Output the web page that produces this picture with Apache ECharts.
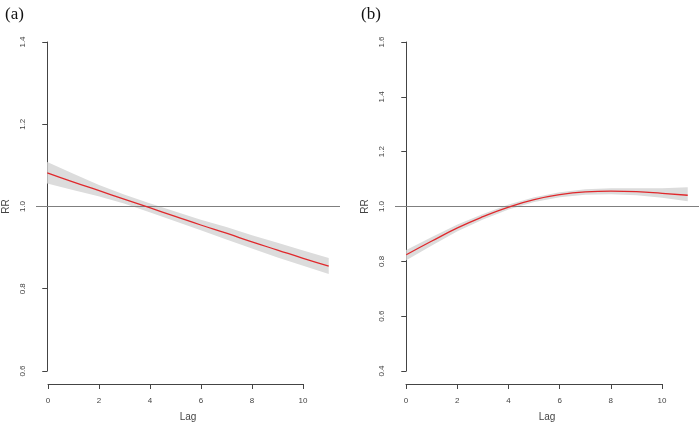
<!DOCTYPE html>
<html>
<head>
<meta charset="utf-8">
<script src="https://cdn.jsdelivr.net/npm/echarts@6/dist/echarts.min.js"></script>
<style>
  html, body { margin: 0; padding: 0; background: #fff; }
  #chart { width: 700px; height: 422px; }
</style>
</head>
<body>
<div id="chart"></div>
<script>
// lag values (x) shared by both panels
const lags = [0, 1, 2, 3, 4, 5, 6, 7, 8, 9, 10, 11];
const xTicks = [0, 2, 4, 6, 8, 10];

// panel (a)
const rrA   = [1.082, 1.060, 1.039, 1.018, 0.997, 0.976, 0.955, 0.935, 0.914, 0.894, 0.874, 0.855];
const lowA  = [1.056, 1.040, 1.025, 1.007, 0.986, 0.964, 0.942, 0.920, 0.898, 0.876, 0.856, 0.836];
const highA = [1.108, 1.080, 1.053, 1.029, 1.008, 0.988, 0.968, 0.950, 0.930, 0.912, 0.893, 0.875];

// panel (b)
const rrB   = [0.824, 0.874, 0.922, 0.963, 0.998, 1.025, 1.043, 1.053, 1.056, 1.054, 1.048, 1.041];
const lowB  = [0.804, 0.858, 0.910, 0.953, 0.989, 1.016, 1.034, 1.043, 1.045, 1.041, 1.032, 1.019];
const highB = [0.841, 0.889, 0.934, 0.973, 1.007, 1.034, 1.052, 1.063, 1.067, 1.067, 1.067, 1.070];

const axisColor = '#444';
const textColor = '#444';
const font = 'Liberation Sans, Arial, sans-serif';

function pairs(xs, ys) {
  return xs.map(function (x, i) { return [x, ys[i]]; });
}

function dataYAxis(gridIndex, min, max) {
  return {
    type: 'value', gridIndex: gridIndex, min: min, max: max, interval: 0.2,
    name: 'RR', nameLocation: 'middle', nameGap: 25, nameRotate: 90,
    nameTextStyle: { color: textColor, fontSize: 10, fontFamily: font },
    axisLine: { show: true, lineStyle: { color: axisColor, width: 1 } },
    axisTick: { show: true, length: 5, lineStyle: { color: axisColor } },
    axisLabel: {
      rotate: 90, margin: 9, color: textColor, fontSize: 8, fontFamily: font,
      formatter: function (v) { return v.toFixed(1); }
    },
    splitLine: { show: false }
  };
}
function dataXAxis(gridIndex) {
  return {
    type: 'value', gridIndex: gridIndex, min: -0.44, max: 11.44,
    name: 'Lag', nameLocation: 'middle', nameGap: 41,
    nameTextStyle: { color: textColor, fontSize: 10, fontFamily: font },
    axisLine: { show: false }, axisTick: { show: false },
    axisLabel: { show: false }, splitLine: { show: false }
  };
}
function tickXAxis(gridIndex) {
  return {
    type: 'value', gridIndex: gridIndex, min: xTicks[0], max: xTicks[xTicks.length - 1], interval: 2,
    axisLine: { show: true, lineStyle: { color: axisColor, width: 1 } },
    axisTick: { show: true, length: 5, lineStyle: { color: axisColor } },
    axisLabel: { margin: 13, color: textColor, fontSize: 8, fontFamily: font },
    splitLine: { show: false }
  };
}
function hiddenYAxis(gridIndex) {
  return { type: 'value', gridIndex: gridIndex, show: false, min: 0, max: 1 };
}

// confidence band as one polygon: upper bound left to right, lower bound back
function bandSeries(idx, lo, hi) {
  return {
    type: 'custom', xAxisIndex: idx, yAxisIndex: idx, silent: true, z: 1,
    data: [[lags[0], lo[0]]],
    renderItem: function (params, api) {
      const pts = [];
      for (let i = 0; i < lags.length; i++) pts.push(api.coord([lags[i], hi[i]]));
      for (let i = lags.length - 1; i >= 0; i--) pts.push(api.coord([lags[i], lo[i]]));
      return { type: 'polygon', shape: { points: pts }, style: { fill: '#dcdcdc', stroke: null } };
    }
  };
}

function panelSeries(idx, rr, lo, hi) {
  return [
    bandSeries(idx, lo, hi),
    {
      type: 'line', xAxisIndex: idx, yAxisIndex: idx,
      data: pairs(lags, rr), smooth: true, symbol: 'none',
      lineStyle: { color: '#e0282c', width: 1.3 }, z: 5,
      markLine: {
        silent: true, symbol: 'none', label: { show: false }, z: 3,
        lineStyle: { color: '#7f7f7f', width: 1, type: 'solid' },
        data: [{ yAxis: 1 }]
      }
    }
  ];
}

const chart = echarts.init(document.getElementById('chart'));
chart.setOption({
  animation: false,
  backgroundColor: '#fff',
  title: [
    { text: '(a)', left: 0, top: 1, textStyle: { fontFamily: 'Liberation Serif, Times New Roman, serif', fontWeight: 'normal', fontSize: 17, color: '#111' } },
    { text: '(b)', left: 356, top: 1, textStyle: { fontFamily: 'Liberation Serif, Times New Roman, serif', fontWeight: 'normal', fontSize: 17, color: '#111' } }
  ],
  grid: [
    { left: 36, top: 42, width: 304, height: 329, outerBoundsMode: 'none', containLabel: false },
    { left: 395, top: 42, width: 304, height: 329, outerBoundsMode: 'none', containLabel: false },
    { left: 48, top: 383, width: 255, height: 1, outerBoundsMode: 'none', containLabel: false },
    { left: 406, top: 383, width: 256, height: 1, outerBoundsMode: 'none', containLabel: false }
  ],
  xAxis: [dataXAxis(0), dataXAxis(1), tickXAxis(2), tickXAxis(3)],
  yAxis: [dataYAxis(0, 0.6, 1.4), dataYAxis(1, 0.4, 1.6), hiddenYAxis(2), hiddenYAxis(3)],
  series: panelSeries(0, rrA, lowA, highA).concat(panelSeries(1, rrB, lowB, highB))
});
</script>
</body>
</html>
